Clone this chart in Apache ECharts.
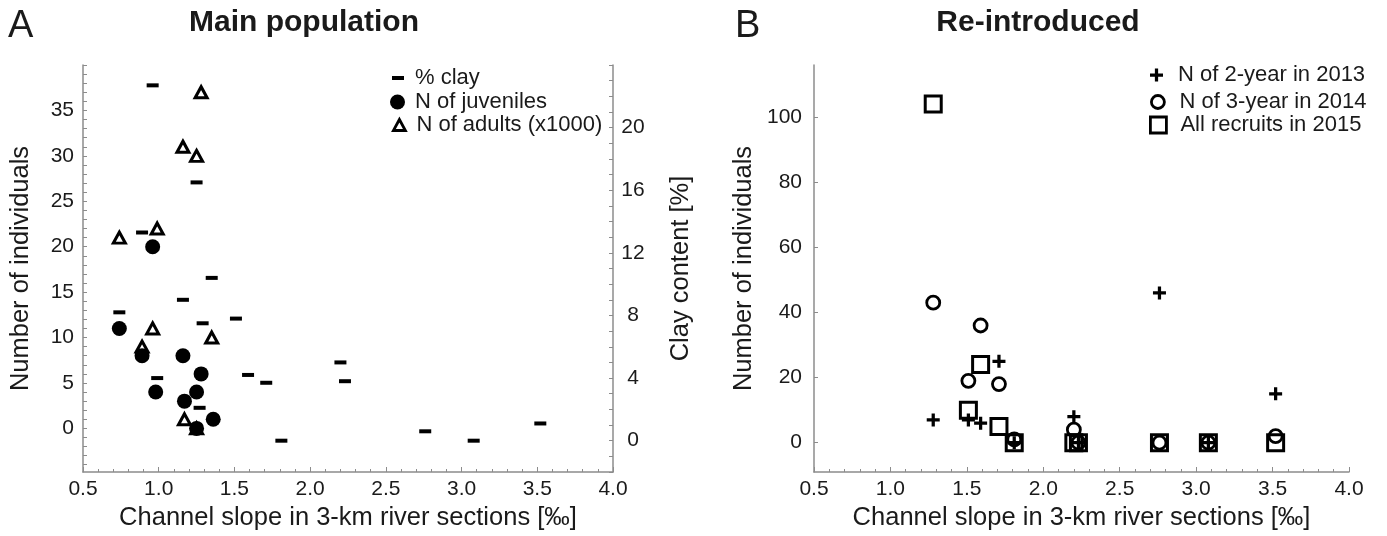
<!DOCTYPE html>
<html>
<head>
<meta charset="utf-8">
<title>Channel slope and number of individuals</title>
<script src="https://cdn.jsdelivr.net/npm/echarts@6/dist/echarts.min.js"></script>
<style>
  html, body { margin: 0; padding: 0; background: #fff; }
  #chart { width: 1387px; height: 536px; }
</style>
</head>
<body>
<div id="chart"></div>
<script>
// A: main population (slope in permille, clay %, counts)
const clayX = [0.96, 1.25, 0.89, 0.74, 0.99, 1.16, 1.29, 1.35, 1.51, 1.27, 1.59, 1.71, 2.20, 2.23, 1.81, 2.76, 3.08, 3.52];
const clayPct = [22.7, 16.5, 13.3, 8.2, 4.0, 9.0, 7.5, 10.4, 7.8, 2.1, 4.2, 3.7, 5.0, 3.8, 0.0, 0.6, 0.0, 1.1];
const juvX = [0.74, 0.96, 0.89, 0.98, 1.16, 1.28, 1.25, 1.17, 1.36, 1.25];
const juvN = [11, 20, 8, 4, 8, 6, 4, 3, 1, 0];
const adultX = [1.28, 1.16, 1.25, 0.74, 0.99, 0.96, 0.89, 1.35, 1.17, 1.25];
const adultN = [37, 31, 30, 21, 22, 11, 9, 10, 1, 0];

// B: re-introduced
const sectB = [1.28, 1.51, 1.59, 1.71, 1.81, 2.20, 2.23, 2.76, 3.08, 3.52];
const twoYear2013 = [7, 7, 6, 25, 0, 8, 0, 46, 0, 15];
const threeYear2014 = [43, 19, 36, 18, 1, 4, 0, 0, 0, 2];
const recruits2015 = [104, 10, 24, 5, 0, 0, 0, 0, 0, 0];

// tick labels
const countTicksA = [0, 5, 10, 15, 20, 25, 30, 35];
const clayTicks = [0, 4, 8, 12, 16, 20];
const countTicksB = [0, 20, 40, 60, 80, 100];

const AX = '#8c8c8c';
const TXT = '#1a1a1a';
const INK = '#000';
const FONT = '"Liberation Sans", Arial, sans-serif';

function pairs(xs, ys) {
  return xs.map((x, i) => [x, ys[i]]);
}
function steps(a, b) {
  let out = [];
  for (let v = a; v <= b; v++) out.push(v);
  return out;
}

function slopeAxis(gi) {
  return {
    type: 'value', gridIndex: gi, min: 0.5, max: 4.0, interval: 0.5,
    name: 'Channel slope in 3-km river sections [‰]',
    nameLocation: 'middle', nameGap: 33,
    nameTextStyle: { fontSize: 25.5, color: TXT, fontFamily: FONT },
    axisLine: { show: true, onZero: false, lineStyle: { color: AX, width: 1.5 } },
    axisTick: { show: true, inside: true, length: 5, lineStyle: { color: AX } },
    minorTick: { show: true, splitNumber: 5, length: 3, lineStyle: { color: AX } },
    axisLabel: { fontSize: 21, color: TXT, fontFamily: FONT, margin: 7,
      showMinLabel: true, showMaxLabel: true, formatter: v => v.toFixed(1) },
    splitLine: { show: false }
  };
}

function countAxis(opt) {
  return Object.assign({
    type: 'value',
    name: 'Number of individuals', nameLocation: 'middle', nameRotate: 90,
    nameTextStyle: { fontSize: 25.5, color: TXT, fontFamily: FONT },
    axisLine: { show: true, onZero: false, lineStyle: { color: AX, width: 1.5 } },
    splitLine: { show: false }
  }, opt);
}

function legendRow(name, left, top, w, h, pad) {
  return {
    data: [name], left: left, top: top, padding: 0,
    itemWidth: w, itemHeight: h, selectedMode: false,
    itemStyle: { borderWidth: 2.8, opacity: 1 },
    textStyle: { fontSize: 22, color: TXT, fontFamily: FONT, lineHeight: 24, padding: [0, 0, 0, pad] }
  };
}

const titleStyle = { fontSize: 30, fontWeight: 'bold', color: TXT, fontFamily: FONT };
const letterStyle = { fontSize: 38, fontWeight: 'normal', color: TXT, fontFamily: FONT };

const option = {
  animation: false,
  backgroundColor: '#fff',
  title: [
    { text: 'A', left: 8, top: 8, padding: 0, textStyle: letterStyle },
    { text: 'Main population', left: 304, top: 8, padding: 0, textAlign: 'center', textStyle: titleStyle },
    { text: 'B', left: 735, top: 8, padding: 0, textStyle: letterStyle },
    { text: 'Re-introduced', left: 1038, top: 8, padding: 0, textAlign: 'center', textStyle: titleStyle }
  ],
  legend: [
    legendRow('% clay', 392, 66, 12, 4, 6),
    legendRow('N of juveniles', 390, 90, 15, 15, 5),
    legendRow('N of adults (x1000)', 392, 113, 12, 11, 6),
    legendRow('N of 2-year in 2013', 1150, 63, 13, 13, 10),
    legendRow('N of 3-year in 2014', 1150, 90, 13, 13, 10),
    legendRow('All recruits in 2015', 1149, 113, 16, 16, 9)
  ],
  grid: [
    { left: 83, top: 65, width: 530, height: 412 },
    { left: 814, top: 65, width: 535, height: 408 }
  ],
  xAxis: [slopeAxis(0), slopeAxis(1)],
  yAxis: [
    countAxis({
      gridIndex: 0, position: 'left', min: -4.8, max: 40, nameGap: 49,
      axisTick: { show: true, inside: true, length: 4, customValues: steps(-4, 40), lineStyle: { color: AX } },
      axisLabel: { customValues: countTicksA, fontSize: 21, color: TXT, fontFamily: FONT, margin: 9 }
    }),
    {
      type: 'value', gridIndex: 0, position: 'right', min: -2, max: 24,
      name: 'Clay content [%]', nameLocation: 'middle', nameRotate: 90, nameGap: 55,
      nameTextStyle: { fontSize: 25.5, color: TXT, fontFamily: FONT },
      axisLine: { show: true, onZero: false, lineStyle: { color: AX, width: 1.5 } },
      axisTick: { show: true, inside: true, length: 4, customValues: steps(-2, 24), lineStyle: { color: AX } },
      axisLabel: { customValues: clayTicks, fontSize: 21, color: TXT, fontFamily: FONT, margin: 20, align: 'center' },
      splitLine: { show: false }
    },
    countAxis({
      gridIndex: 1, position: 'left', min: -9, max: 116, nameGap: 57,
      axisTick: { show: true, inside: true, length: 4, customValues: countTicksB, lineStyle: { color: AX } },
      axisLabel: { customValues: countTicksB, fontSize: 21, color: TXT, fontFamily: FONT, margin: 12 }
    })
  ],
  series: [
    {
      name: '% clay', type: 'scatter', xAxisIndex: 0, yAxisIndex: 1,
      symbol: 'rect', symbolSize: [12, 4],
      itemStyle: { color: INK, opacity: 1 },
      data: pairs(clayX, clayPct)
    },
    {
      name: 'N of juveniles', type: 'scatter', xAxisIndex: 0, yAxisIndex: 0,
      symbol: 'circle', symbolSize: 15,
      itemStyle: { color: INK, opacity: 1 },
      data: pairs(juvX, juvN)
    },
    {
      name: 'N of adults (x1000)', type: 'scatter', xAxisIndex: 0, yAxisIndex: 0,
      symbol: 'triangle', symbolSize: [12, 11],
      itemStyle: { color: 'rgba(0,0,0,0)', borderColor: INK, borderWidth: 3, opacity: 1 },
      data: pairs(adultX, adultN)
    },
    {
      name: 'N of 2-year in 2013', type: 'scatter', xAxisIndex: 1, yAxisIndex: 2,
      symbol: 'path://M3,0H5V3H8V5H5V8H3V5H0V3H3Z', symbolSize: 13,
      itemStyle: { color: INK, opacity: 1 },
      data: pairs(sectB, twoYear2013)
    },
    {
      name: 'N of 3-year in 2014', type: 'scatter', xAxisIndex: 1, yAxisIndex: 2,
      symbol: 'circle', symbolSize: 13,
      itemStyle: { color: 'rgba(0,0,0,0)', borderColor: INK, borderWidth: 2.8, opacity: 1 },
      data: pairs(sectB, threeYear2014)
    },
    {
      name: 'All recruits in 2015', type: 'scatter', xAxisIndex: 1, yAxisIndex: 2,
      symbol: 'rect', symbolSize: 16,
      itemStyle: { color: 'rgba(0,0,0,0)', borderColor: INK, borderWidth: 3, opacity: 1 },
      data: pairs(sectB, recruits2015)
    }
  ]
};

const chart = echarts.init(document.getElementById('chart'));
chart.setOption(option);
window.addEventListener('resize', function () {
  chart.resize();
});
</script>
</body>
</html>
